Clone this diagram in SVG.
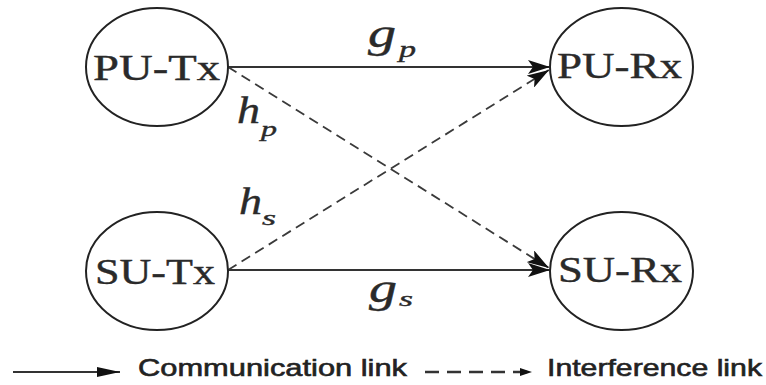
<svg xmlns="http://www.w3.org/2000/svg" width="766" height="385" viewBox="0 0 766 385">
<style>
.node{fill:#fff;stroke:#222;stroke-width:2}
.lbl{font-family:"Liberation Serif","Times New Roman",serif;font-size:35px;fill:#2a2a2a;stroke:#2a2a2a;stroke-width:0.4}
.math{font-family:"Liberation Serif","Times New Roman",serif;font-style:italic;fill:#2a2a2a;stroke:#2a2a2a;stroke-width:0.4}
.solid{stroke:#333;stroke-width:2.2;fill:none}
.dash{stroke:#3a3a3a;stroke-width:1.8;fill:none;stroke-dasharray:10 6}
.leg{font-family:"Liberation Sans",Arial,sans-serif;font-size:24px;fill:#222;stroke:#222;stroke-width:0.6}
</style>
<defs>
<marker id="ah" markerUnits="userSpaceOnUse" markerWidth="24" markerHeight="14" refX="22" refY="7" orient="auto">
<path d="M0,0 L22,7 L0,14 L5,7 Z" fill="#111"/>
</marker>
<marker id="ahs" markerUnits="userSpaceOnUse" markerWidth="24" markerHeight="12" refX="23" refY="5" orient="auto">
<path d="M0,0 L23,5 L0,10 Z" fill="#111"/>
</marker>
<marker id="ahd" markerUnits="userSpaceOnUse" markerWidth="14" markerHeight="10" refX="12" refY="4" orient="auto">
<path d="M0,0 L12,4 L0,8 Z" fill="#111"/>
</marker>
</defs>
<rect width="766" height="385" fill="#fff"/>
<g id="connectors">
<line class="solid" x1="228" y1="67" x2="550" y2="67" marker-end="url(#ah)"/>
<line class="solid" x1="228" y1="270" x2="550" y2="270" marker-end="url(#ah)"/>
<line class="dash" x1="228" y1="67" x2="549" y2="268" marker-end="url(#ah)"/>
<line class="dash" x1="228" y1="270" x2="549" y2="70" marker-end="url(#ah)"/>
<text class="math" x="368" y="47" font-size="40" textLength="28" lengthAdjust="spacingAndGlyphs">g</text>
<text class="math" x="399" y="57" font-size="24" textLength="17" lengthAdjust="spacingAndGlyphs">p</text>
<text class="math" x="237" y="123" font-size="38" textLength="23" lengthAdjust="spacingAndGlyphs">h</text>
<text class="math" x="261" y="136" font-size="22" textLength="16" lengthAdjust="spacingAndGlyphs">p</text>
<text class="math" x="239" y="214" font-size="38" textLength="23" lengthAdjust="spacingAndGlyphs">h</text>
<text class="math" x="262" y="225" font-size="22" textLength="14" lengthAdjust="spacingAndGlyphs">s</text>
<text class="math" x="369" y="302" font-size="40" textLength="28" lengthAdjust="spacingAndGlyphs">g</text>
<text class="math" x="399" y="306" font-size="22" textLength="14" lengthAdjust="spacingAndGlyphs">s</text>
</g>
<g id="pu-tx">
<ellipse class="node" cx="157" cy="67" rx="71" ry="59"/>
<text class="lbl" x="93" y="80" textLength="127" lengthAdjust="spacingAndGlyphs">PU-Tx</text>
</g>
<g id="pu-rx">
<ellipse class="node" cx="621.5" cy="67" rx="71.5" ry="59"/>
<text class="lbl" x="557" y="78" textLength="125" lengthAdjust="spacingAndGlyphs">PU-Rx</text>
</g>
<g id="su-tx">
<ellipse class="node" cx="157" cy="271" rx="71" ry="59"/>
<text class="lbl" x="95" y="284" textLength="120" lengthAdjust="spacingAndGlyphs">SU-Tx</text>
</g>
<g id="su-rx">
<ellipse class="node" cx="621.5" cy="271" rx="71.5" ry="59"/>
<text class="lbl" x="558" y="282" textLength="124" lengthAdjust="spacingAndGlyphs">SU-Rx</text>
</g>
<g id="legend">
<line class="solid" x1="13" y1="372" x2="120" y2="372" marker-end="url(#ahs)"/>
<text class="leg" x="138" y="376" textLength="269" lengthAdjust="spacingAndGlyphs">Communication link</text>
<line stroke="#333" stroke-width="2.6" stroke-dasharray="14 8" x1="425" y1="372" x2="532" y2="372" marker-end="url(#ahd)"/>
<text class="leg" x="547" y="376" textLength="215" lengthAdjust="spacingAndGlyphs">Interference link</text>
</g>
</svg>
